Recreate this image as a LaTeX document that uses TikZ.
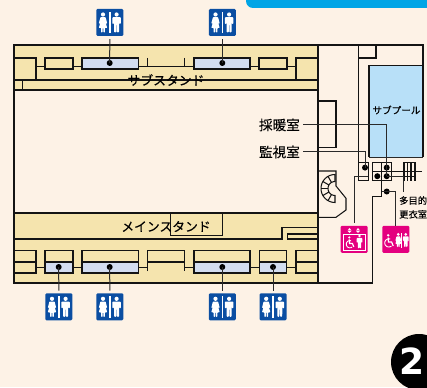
\documentclass[tikz,border=0pt]{standalone}
\usepackage{fontspec}
\setmainfont{Noto Sans CJK JP}[FakeBold=0.25]
\usetikzlibrary{calc}
\definecolor{bgc}{HTML}{FDF2E6}
\definecolor{yel}{HTML}{F5E4AE}
\definecolor{wcblue}{HTML}{0B4EA2}
\definecolor{pink}{HTML}{E4007F}
\definecolor{pool}{HTML}{B8E0F8}
\definecolor{toil}{HTML}{D3DDF0}
\definecolor{topblue}{HTML}{00A5E6}
\definecolor{wallc}{HTML}{141414}
\definecolor{leadc}{HTML}{2A2A2A}
\tikzset{
  wall/.style={draw=wallc,line width=1.05pt},
  leader/.style={draw=leadc,line width=1pt},
  pindot/.style={circle,fill=black,inner sep=0pt,minimum size=6pt},
  wcicon/.style={fill=wcblue,rounded corners=1.2pt,minimum size=27pt,inner sep=0pt},
  pkicon/.style={fill=pink,rounded corners=1.2pt,minimum size=27pt,inner sep=0pt},
  lab/.style={inner sep=0pt,font=\fontsize{13.6}{14}\selectfont},
  smalllab/.style={inner sep=0pt,font=\fontsize{9.3}{13.8}\selectfont},
}
\newcommand\manfig[2]{\begin{scope}[shift={(#1,#2)}]
  \fill[white] (0,-8) circle [radius=2.1];
  \fill[white,rounded corners=0.8pt] (-4.2,-5.3) -- (4.2,-5.3) -- (4.2,1.5) -- (2.8,1.5) -- (2.6,-2) -- (2.4,10) -- (0.35,10) -- (0.2,2) -- (-0.2,2) -- (-0.35,10) -- (-2.4,10) -- (-2.6,-2) -- (-2.8,1.5) -- (-4.2,1.5) -- cycle;
\end{scope}}
\newcommand\womanfig[2]{\begin{scope}[shift={(#1,#2)}]
  \fill[white] (0,-8) circle [radius=2.1];
  \fill[white,rounded corners=0.6pt] (-2.6,-5.3) -- (2.6,-5.3) -- (4.2,1) -- (3.1,1.3) -- (2.2,-1.5) -- (4.2,5.5) -- (1.9,5.5) -- (1.9,10) -- (0.4,10) -- (0.4,5.5) -- (-0.4,5.5) -- (-0.4,10) -- (-1.9,10) -- (-1.9,5.5) -- (-4.2,5.5) -- (-2.2,-1.5) -- (-3.1,1.3) -- (-4.2,1) -- cycle;
\end{scope}}
\newcommand\wheelfig[2]{\begin{scope}[shift={(#1,#2)}]
  \fill[white] (-1.5,-6.5) circle [radius=1.5];
  \draw[white,line width=1.2pt] (-1.6,-4) -- (-1.2,1.2) -- (2.4,1.2) -- (4.2,5.6);
  \draw[white,line width=0.9pt] plot[domain=70:310,samples=24] ({-0.8+4.6*cos(\x)},{2.2-4.6*sin(\x)});
\end{scope}}
\begin{document}
\begin{tikzpicture}[x=1pt,y=-1pt]
\clip (0,0) rectangle (427,387);
\fill[bgc] (0,0) rectangle (427,387);
% top bar and page badge
\fill[topblue,rounded corners=7pt] (246,-12) rectangle (450,8);
\fill[black] (419,362) circle [radius=28];
\node[inner sep=0pt,anchor=west,text=white] (badge) at (399.5,361) {\fontspec{DejaVu Sans Bold}\fontsize{36}{36}\selectfont 2};
% stands
\fill[yel] (14,45) rectangle (318,90);
\fill[yel] (14,213) rectangle (318,283);
\fill[pool] (369,65.5) rectangle (423,157);
% upper stand
\draw[wall] (14,45) rectangle (318,283);
\draw[wall] (14,90) -- (318,90);
\draw[wall] (14,80) -- (318,80);
\draw[wall] (22.5,80) -- (22.5,90);
\draw[wall] (14,58) -- (36,58) -- (36,80);
\draw[wall] (318,58) -- (296,58) -- (296,80);
\draw[wall] (36,66.5) -- (45,66.5) (73,66.5) -- (82,66.5) (138.5,66.5) -- (194,66.5) (250,66.5) -- (259,66.5) (287,66.5) -- (296,66.5);
\draw[wall] (147.3,58) -- (147.3,66.5) (184.3,58) -- (184.3,66.5);
\draw[wall] (45,58) rectangle (73,69);
\draw[wall] (259,58) rectangle (287,69);
\draw[wall,fill=toil] (82,58) rectangle (138.5,69);
\draw[wall,fill=toil] (194,58) rectangle (250,69);
\node[inner sep=0pt,font=\fontsize{12.8}{13}\selectfont] (substand) at (166,80) {サブスタンド};
% lower stand
\draw[wall] (14,213) -- (318,213);
\draw[wall] (14,239) -- (282,239) -- (282,227.5) -- (318,227.5);
\draw[wall] (318,234) -- (287.5,234) -- (287.5,239) -- (318,239);
\draw[wall] (170.7,213) -- (170.7,235.7) -- (222.3,235.7) -- (222.3,213);
\node[inner sep=0pt,font=\fontsize{12.8}{13}\selectfont] (mainstand) at (166,226.5) {メインスタンド};
\draw[wall] (14,250.7) -- (36,250.7) -- (36,273) -- (14,273) (14,262) -- (36,262);
\draw[wall] (36,267.5) -- (45,267.5) (73,267.5) -- (82,267.5) (138.5,267.5) -- (147.5,267.5) (184.3,267.5) -- (194,267.5) (250,267.5) -- (259.3,267.5) (286.7,267.5) -- (296,267.5);
\draw[wall] (45,250.7) rectangle (73,262);
\draw[wall,fill=toil] (45,262) rectangle (73,273);
\draw[wall] (82,250.7) rectangle (138.5,262);
\draw[wall,fill=toil] (82,262) rectangle (138.5,273);
\draw[wall] (147.5,271) -- (147.5,250.7) -- (184.3,250.7) -- (184.3,271) (147.5,262) -- (184.3,262);
\draw[wall] (194,250.7) rectangle (250,262);
\draw[wall,fill=toil] (194,262) rectangle (250,273);
\draw[wall] (259.3,250.7) rectangle (286.7,262);
\draw[wall,fill=toil] (259.3,262) rectangle (286.7,273);
\draw[wall] (318,250.7) -- (296,250.7) -- (296,273) -- (318,273) (296,262) -- (318,262);
% east wing
\draw[wall] (318,45) -- (423,45) -- (423,157);
\draw[wall] (358.5,45) -- (358.5,163);
\draw[wall] (358.5,58) -- (376,58) -- (376,45);
\draw[wall] (369,157) -- (369,65.5) -- (423,65.5);
\draw[draw=leadc,line width=0.4pt] (369,157) -- (423,157);
\draw[wall] (318,101) -- (336,101) -- (336,147.5) -- (318,147.5);
\draw[wall] (318,283) -- (372.7,283) -- (372.7,196.7) -- (381.7,196.7) -- (381.7,180.7);
\draw[wall] (318,217.3) -- (336,217.3) -- (346,210) -- (346,198.3) -- (336,186) -- (336,171) -- (318,171);
% spiral stairs
\draw[wall,fill=bgc] plot[domain=90:270,samples=30] ({335+14*cos(\x)},{188.5-14*sin(\x)}) -- plot[domain=270:90,samples=30] ({335+7*cos(\x)},{188.5-7*sin(\x)}) -- cycle;
\foreach \a in {120,150,180,210,240}
  \draw[wall] ({335+7*cos(\a)},{188.5-7*sin(\a)}) -- ({335+14*cos(\a)},{188.5-14*sin(\a)});
% rooms round the lift
\draw[wall] (358.5,162.5) rectangle (368.3,180.7);
\draw[wall] (372.7,162.5) rectangle (391.7,180.7);
\draw[wall] (372.7,171.3) -- (391.7,171.3) (381.7,162.5) -- (381.7,180.7);
\draw[wall] (391.7,171.3) -- (422,171.3);
\draw[wall] (391.7,176.7) -- (415,176.7);
\foreach \s in {404,407.5,411,415} \draw[wall] (\s,162.5) -- (\s,181);
\draw[wall] (404,162.5) -- (415,162.5);
% pins
\node[pindot] (p1) at (109.7,63) {};
\node[pindot] (p2) at (222.3,63) {};
\node[pindot] (p3) at (58.7,267) {};
\node[pindot] (p4) at (109.7,267) {};
\node[pindot] (p5) at (222.3,267) {};
\node[pindot] (p6) at (273,267) {};
\node[pindot] (p7) at (365,167.6) {};
\node[pindot] (p8) at (386.7,167.6) {};
\node[pindot] (p9) at (377.3,176.2) {};
\node[pindot] (p10) at (386.7,176.2) {};
\node[pindot] (p11) at (386.7,191.5) {};
\coordinate (c1) at (368.3,176.7);
\coordinate (c2) at (381.7,191.5);
\coordinate (c3) at (403.7,192);
% icons
\node[wcicon] (w1) at (109.8,22.5) {};
\node[wcicon] (w2) at (222.3,22.5) {};
\node[wcicon] (w3) at (58.8,306.8) {};
\node[wcicon] (w4) at (109.8,306.8) {};
\node[wcicon] (w5) at (222.3,306.8) {};
\node[wcicon] (w6) at (273,306.8) {};
\node[pkicon] (e1) at (354.2,239.3) {};
\node[pkicon] (e2) at (395.8,239.3) {};
\foreach \cx/\cy in {109.8/22.5,222.3/22.5,58.8/306.8,109.8/306.8,222.3/306.8,273/306.8}{
  \pgfmathsetmacro\lx{\cx-6.8}\pgfmathsetmacro\rx{\cx+6.8}
  \womanfig{\lx}{\cy}\manfig{\rx}{\cy}
  \fill[white] ({\cx-0.7},{\cy-10.8}) rectangle ({\cx+0.7},{\cy+10.8});
}
% lift icon
\draw[white,line width=0.8pt] (343.5,234) rectangle (365,250);
\foreach \ax in {349.5,358}{
  \fill[white] (\ax,228.2) -- (\ax+2,230.3) -- (\ax-2,230.3) -- cycle;
  \fill[white] (\ax,233) -- (\ax+2,230.9) -- (\ax-2,230.9) -- cycle;
}
\begin{scope}[shift={(350.5,242.5)},scale=0.78]\wheelfig{0}{0}\end{scope}
\begin{scope}[shift={(359.5,241.5)},scale=0.68]\manfig{0}{0}\end{scope}
% accessible toilet icon
\begin{scope}[shift={(389.5,241)},scale=0.88]\wheelfig{0}{0}\end{scope}
\begin{scope}[shift={(398.3,240)},scale=0.7]\womanfig{0}{0}\end{scope}
\fill[white] (401.4,233) rectangle (402.2,247.5);
\begin{scope}[shift={(405.8,240)},scale=0.7]\manfig{0}{0}\end{scope}
% labels
\node[lab,anchor=east] (l1) at (300,125) {採暖室};
\node[lab,anchor=east] (l2) at (300,152) {監視室};
\node[smalllab,anchor=north west,align=left] (l3) at (399,196) {多目的\\更衣室};
\node[smalllab,font=\fontsize{9.6}{10}\selectfont] (l4) at (396.5,110) {サブプール};
% connectors
\foreach \d/\i in {p1/w1,p2/w2}
  \draw[leader,shorten >=3pt] (\d.center) -- (\i.south);
\foreach \d/\i in {p3/w3,p4/w4,p5/w5,p6/w6}
  \draw[leader,shorten >=2.5pt] (\d.center) -- (\i.north);
\draw[leader,shorten <=3pt] (l1.east) -| (p8.center);
\draw[leader,shorten <=3pt] (l2.east) -| (p7.center);
\draw[leader] (p8.center) -- (p10.center);
\draw[leader] (p10.center) -| (c3);
\draw[leader,shorten >=2.5pt] (c1) -| (e1.north);
\draw[leader] (c2) -- (p11.center) -| (e2.north);
\end{tikzpicture}
\end{document}
